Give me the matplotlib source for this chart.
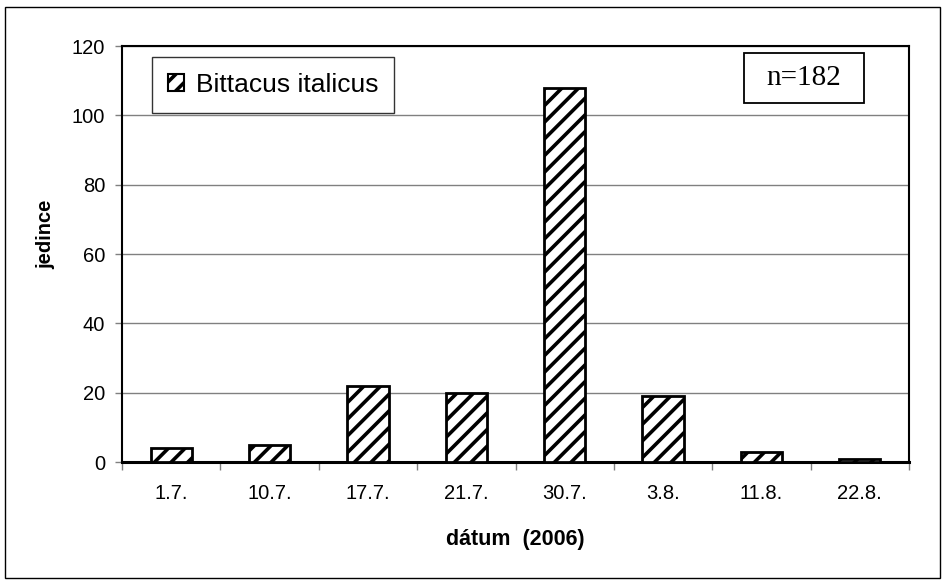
import matplotlib
matplotlib.use("Agg")
import matplotlib.pyplot as plt
from matplotlib.patches import Rectangle, Patch
import numpy as np

categories = ["1.7.", "10.7.", "17.7.", "21.7.", "30.7.", "3.8.", "11.8.", "22.8."]
values = [4, 5, 22, 20, 108, 19, 3, 1]
series_name = "Bittacus italicus"
yticks = [0, 20, 40, 60, 80, 100, 120]

plt.rcParams['font.family'] = ['Liberation Sans', 'DejaVu Sans']
plt.rcParams['hatch.linewidth'] = 2.6

W, H = 944, 581
fig = plt.figure(figsize=(W/100, H/100), dpi=100)
L, R, T, B = 122, 909, 46, 462
ax = fig.add_axes([L/W, 1-B/H, (R-L)/W, (B-T)/H])

x = np.arange(len(categories))
ax.bar(x, values, width=0.42, color='white', edgecolor='black',
       linewidth=2, hatch='//', zorder=3)

ax.set_xlim(-0.5, len(categories)-0.5)
ax.set_ylim(0, 120)
ax.set_yticks(yticks)
ax.set_yticklabels([str(v) for v in yticks], fontsize=14.5)
ax.yaxis.grid(True, color='#808080', linewidth=1, zorder=0)
ax.set_axisbelow(True)

ax.set_xticks(x)
ax.set_xticklabels(categories, fontsize=14.5)
ax.tick_params(axis='x', length=0, pad=16)
ax.set_xticks(np.arange(len(categories)+1)-0.5, minor=True)
ax.tick_params(axis='x', which='minor', length=6, width=1, color='#808080', direction='out')
ax.tick_params(axis='y', length=5, width=1, color='#808080', pad=7)

for s in ['top', 'right', 'left']:
    ax.spines[s].set_linewidth(1.5)
    ax.spines[s].set_color('black')
ax.spines['bottom'].set_linewidth(2.2)

fig.text(515/W, 1-539/H, "dátum  (2006)", fontsize=15.5, fontweight='bold',
         ha='center', va='center')
fig.text(46/W, 1-234/H, "jedince", fontsize=14.5, fontweight='bold',
         rotation=90, ha='center', va='center')

# legend box
handle = Patch(facecolor='white', edgecolor='black', hatch='//', linewidth=1.5)
leg = ax.legend([handle], [series_name], fontsize=19, loc='upper left',
                bbox_to_anchor=((152-L)/(R-L), (B-57)/(B-T)),
                frameon=True, fancybox=False, borderpad=0.6,
                handlelength=0.6, handleheight=0.6, handletextpad=0.45,
                borderaxespad=0)
leg.get_frame().set_edgecolor('black')
leg.get_frame().set_linewidth(1)

# n box
ax.add_patch(Rectangle(((744-L)/(R-L), (B-103)/(B-T)), (864-744)/(R-L), (103-53)/(B-T),
                       transform=ax.transAxes, facecolor='white', edgecolor='black',
                       linewidth=1.3, zorder=5))
ax.text((804-L)/(R-L), (B-78)/(B-T), "n=182", transform=ax.transAxes,
        fontsize=21, family='Liberation Serif', ha='center', va='center', zorder=6)

# figure border
fig.patches.append(Rectangle((5/W, 1-578/H), (940-5)/W, (578-7)/H,
                             transform=fig.transFigure, fill=False,
                             edgecolor='black', linewidth=1))

fig.savefig("out.png", dpi=100)
